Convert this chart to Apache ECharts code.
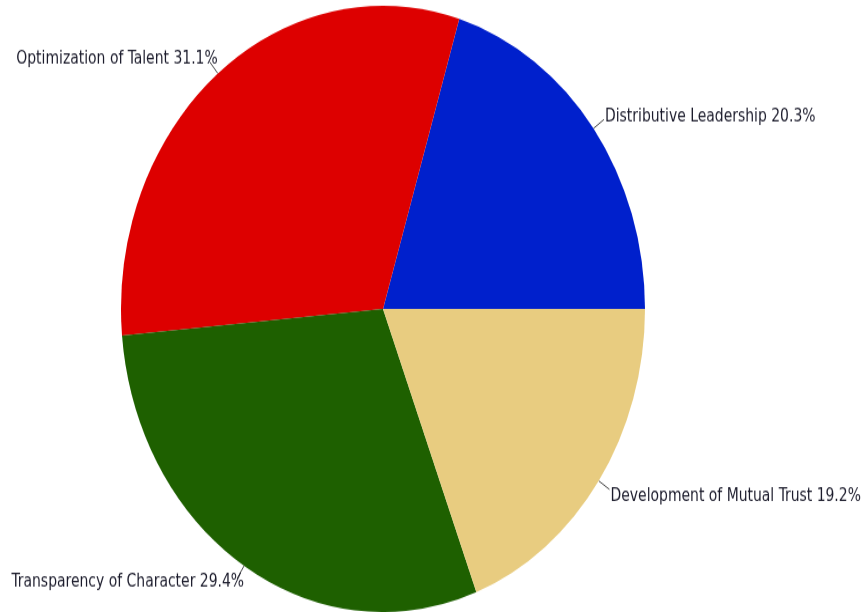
<!DOCTYPE html>
<html>
<head>
<meta charset="utf-8">
<script src="https://cdn.jsdelivr.net/npm/echarts@6/dist/echarts.min.js"></script>
<style>
  html, body { margin: 0; padding: 0; background: #ffffff; overflow: hidden; width: 867px; height: 612px; }
  #frame { width: 867px; height: 612px; overflow: hidden; position: relative; }
  /* the pie is drawn as an ellipse: a circle stretched vertically */
  #chart { position: absolute; left: 0; top: 0; width: 867px; height: 529px; transform: scaleY(1.157); transform-origin: 0 0; }
</style>
</head>
<body>
<div id="frame"><div id="chart"></div></div>
<script>
// Share of each leadership dimension (percent), counter-clockwise from 3 o'clock
const categories = [
  'Distributive Leadership',
  'Optimization of Talent',
  'Transparency of Character',
  'Development of Mutual Trust'
];
const shares = [20.3, 31.1, 29.4, 19.2];
const sliceColors = ['#0020cc', '#dd0000', '#1e6000', '#e8cc80'];

// small nudges of each outside label, in chart pixels
const labelNudge = [[0, -2], [9, -2], [8, 2.5], [0, 6]];

const chart = echarts.init(document.getElementById('chart'));

chart.setOption({
  animation: false,
  series: [{
    type: 'pie',
    center: [383, 267],
    radius: 262,
    startAngle: 0,
    clockwise: false,
    avoidLabelOverlap: false,
    data: categories.map((name, i) => ({
      name: name,
      value: shares[i],
      itemStyle: { color: sliceColors[i] }
    })),
    label: {
      show: true,
      position: 'outside',
      formatter: p => p.name + ' ' + p.value.toFixed(1) + '%',
      color: '#1c1c2c',
      fontFamily: 'DejaVu Sans Condensed',
      fontSize: 15.5,
      distanceToLabelLine: 1
    },
    labelLine: {
      show: true,
      length: 13,
      length2: 0,
      lineStyle: { color: '#444444', width: 1 }
    },
    labelLayout: p => ({ dx: labelNudge[p.dataIndex][0], dy: labelNudge[p.dataIndex][1] }),
    itemStyle: { borderWidth: 0 }
  }]
});
</script>
</body>
</html>
